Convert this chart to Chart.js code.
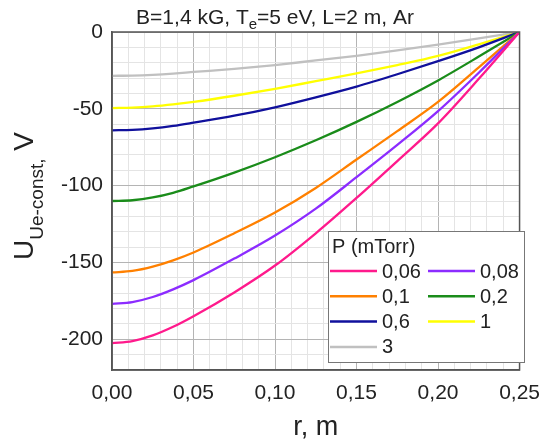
<!DOCTYPE html>
<html>
<head>
<meta charset="utf-8">
<script src="https://cdn.jsdelivr.net/npm/chart.js@4/dist/chart.umd.min.js"></script>
<style>
  body { margin: 0; background: #fff; }
  #wrap { width: 551px; height: 442px; }
</style>
</head>
<body>
<div id="wrap"><canvas id="potential_chart" width="551" height="442"></canvas></div>
<script>
// radius, m (denser near the axis where the curves flatten)
const radius = [0, 0.0125, 0.025, 0.0375, 0.05, 0.075, 0.1, 0.125, 0.15, 0.175, 0.2, 0.225, 0.25];

// U (V) for each pressure
const p006 = [-202.5, -201.2, -197.5, -191.9, -185, -169.5, -152, -131, -108, -84, -59.5, -30.5, 0];
const p008 = [-177, -175.8, -172.5, -167.5, -161.5, -147.5, -132.5, -115, -94.5, -73.5, -51.5, -26.5, 0];
const p01 = [-156.5, -155.5, -152.7, -148.6, -143.5, -131, -117.5, -101.5, -83, -64.5, -45.5, -23, 0];
const p02 = [-110, -109.5, -107.7, -104.7, -100.5, -91.5, -81.5, -70.5, -58.5, -45.5, -31.5, -16, 0];
const p06 = [-64, -63.7, -62.7, -61.1, -59, -54.5, -49, -42.5, -35.5, -27.5, -19, -10, 0];
const p1 = [-49.5, -49.25, -48.45, -47.15, -45.5, -41.5, -37, -32, -27, -21.5, -15.5, -8, 0];
const p3 = [-28.5, -28.35, -27.85, -27.05, -26, -24, -21.5, -18.5, -15.5, -12, -8.2, -4.2, 0];

const pressureLabels = ["0,06", "0,08", "0,1", "0,2", "0,6", "1", "3"];
const seriesValues = [p006, p008, p01, p02, p06, p1, p3];
const colors = ["#ff1a8c", "#8c2cff", "#ff8000", "#1a8c1a", "#10109c", "#ffff00", "#c0c0c0"];

const FONT = "'Liberation Sans', Arial, sans-serif";

function toPoints(values) {
  return values.map((v, i) => ({ x: radius[i], y: v }));
}

// frame around the plot area
const framePlugin = {
  id: "frame",
  afterDatasetsDraw(chart) {
    const a = chart.chartArea;
    const ctx = chart.ctx;
    ctx.save();
    ctx.strokeStyle = "#555";
    ctx.lineWidth = 1.5;
    ctx.strokeRect(a.left, a.top, a.right - a.left, a.bottom - a.top);
    ctx.restore();
  }
};

// title and axis titles (with subscripts)
const textPlugin = {
  id: "texts",
  afterDraw(chart) {
    const ctx = chart.ctx;
    const a = chart.chartArea;
    ctx.save();
    ctx.fillStyle = "#222";
    ctx.textBaseline = "alphabetic";
    ctx.textAlign = "left";

    // title
    const big = "21px " + FONT, small = "15px " + FONT;
    const parts = [["B=1,4 kG, T", big, 0], ["e", small, 5], ["=5 eV, L=2 m, Ar", big, 0]];
    let w = 0;
    parts.forEach(p => { ctx.font = p[1]; w += ctx.measureText(p[0]).width; });
    let x = 275 - w / 2;
    parts.forEach(p => {
      ctx.font = p[1];
      ctx.fillText(p[0], x, 24 + p[2]);
      x += ctx.measureText(p[0]).width;
    });

    // x axis title
    ctx.font = "27px " + FONT;
    ctx.textAlign = "center";
    ctx.fillText("r, m", (a.left + a.right) / 2, 435);

    // y axis title
    ctx.textAlign = "left";
    const yparts = [["U", "28px " + FONT, 0], ["Ue-const,", "19px " + FONT, 10], [" V", "28px " + FONT, 0]];
    let yw = 0;
    yparts.forEach(p => { ctx.font = p[1]; yw += ctx.measureText(p[0]).width; });
    ctx.translate(33, 196);
    ctx.rotate(-Math.PI / 2);
    let tx = -yw / 2;
    yparts.forEach(p => {
      ctx.font = p[1];
      ctx.fillText(p[0], tx, p[2]);
      tx += ctx.measureText(p[0]).width;
    });
    ctx.restore();
  }
};

// two-column legend box inside the plot
const legendPlugin = {
  id: "pressureLegend",
  afterDraw(chart) {
    const ctx = chart.ctx;
    const left = 328, top = 231, width = 196, height = 131;
    ctx.save();
    ctx.fillStyle = "#fff";
    ctx.fillRect(left, top, width, height);
    ctx.strokeStyle = "#777";
    ctx.lineWidth = 1;
    ctx.strokeRect(left + 0.5, top + 0.5, width, height);

    ctx.fillStyle = "#222";
    ctx.font = "20px " + FONT;
    ctx.textBaseline = "middle";
    ctx.textAlign = "left";
    ctx.fillText("P (mTorr)", left + 4, top + 16);

    const colX = [left + 2, left + 100];
    chart.data.datasets.forEach((ds, i) => {
      const col = i % 2, row = Math.floor(i / 2);
      const cy = top + 40 + row * 25.3;
      const x0 = colX[col];
      ctx.strokeStyle = ds.borderColor;
      ctx.lineWidth = 2.5;
      ctx.beginPath();
      ctx.moveTo(x0, cy);
      ctx.lineTo(x0 + 47, cy);
      ctx.stroke();
      ctx.fillStyle = "#222";
      ctx.fillText(ds.label, x0 + 52, cy + 1);
    });
    ctx.restore();
  }
};

const ctx = document.getElementById("potential_chart");

new Chart(ctx, {
  type: "line",
  data: {
    datasets: seriesValues.map((vals, i) => ({
      label: pressureLabels[i],
      data: toPoints(vals),
      borderColor: colors[i],
      backgroundColor: colors[i],
      borderWidth: 2.3,
      pointRadius: 0,
      cubicInterpolationMode: "monotone",
      fill: false,
    })),
  },
  options: {
    responsive: false,
    animation: false,
    layout: { padding: { top: 32, right: 20, left: 0, bottom: 0 } },
    plugins: {
      legend: { display: false },
      tooltip: { enabled: false },
      title: { display: false },
    },
    scales: {
      x: {
        type: "linear",
        min: 0,
        max: 0.25,
        afterFit(scale) { scale.height = 72; },
        ticks: {
          stepSize: 0.01,
          autoSkip: false,
          maxRotation: 0,
          padding: 11,
          color: "#222",
          font: { family: FONT, size: 21 },
          callback(value) {
            const n = Math.round(value * 100);
            return n % 5 === 0 ? (n / 100).toFixed(2).replace(".", ",") : "";
          },
        },
        grid: {
          drawTicks: false,
          lineWidth: 1,
          color(c) {
            const n = Math.round(c.tick.value * 100);
            return n % 5 === 0 ? "#b4b4b4" : "#e4e4e4";
          },
        },
        border: { color: "#555", width: 1.5 },
      },
      y: {
        min: -220,
        max: 0,
        afterFit(scale) { scale.width = 112; },
        ticks: {
          stepSize: 10,
          autoSkip: false,
          padding: 9,
          color: "#222",
          font: { family: FONT, size: 21 },
          callback(value) {
            return Math.round(value) % 50 === 0 ? String(Math.round(value)) : "";
          },
        },
        grid: {
          drawTicks: false,
          lineWidth: 1,
          color(c) {
            return Math.round(c.tick.value) % 50 === 0 ? "#b4b4b4" : "#e4e4e4";
          },
        },
        border: { color: "#555", width: 1.5 },
      },
    },
  },
  plugins: [framePlugin, textPlugin, legendPlugin],
});
</script>
</body>
</html>
